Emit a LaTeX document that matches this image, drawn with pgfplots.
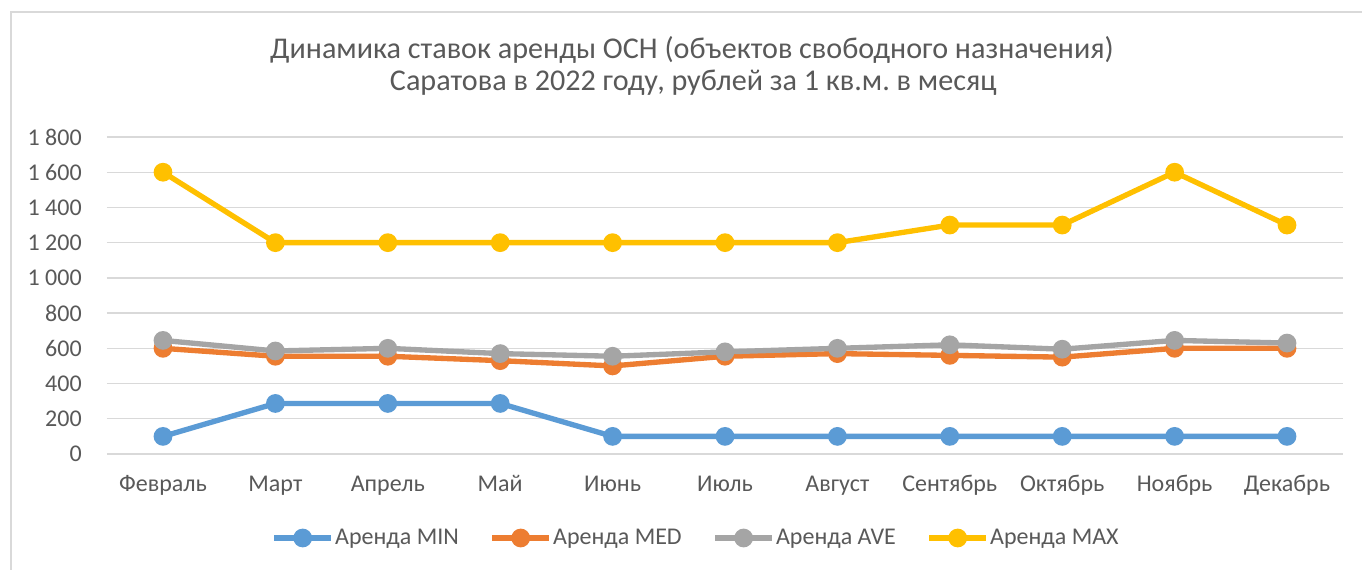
\documentclass[border=0pt]{standalone}
\usepackage{fontspec}
\setmainfont{Carlito}
\usepackage{pgfplots}
\pgfplotsset{compat=1.18}
\definecolor{cmin}{RGB}{91,155,213}
\definecolor{cmed}{RGB}{237,125,49}
\definecolor{cave}{RGB}{165,165,165}
\definecolor{cmax}{RGB}{255,192,0}
\definecolor{gridc}{RGB}{217,217,217}
\definecolor{txt}{RGB}{89,89,89}
\frenchspacing
\begin{document}
\begin{tikzpicture}
\useasboundingbox (0,0) rectangle (1021.5pt,427.5pt);
\fill[white] (0,0) rectangle (1021.5pt,427.5pt);
\draw[gridc,line width=1.2pt] (8.25pt,0pt) -- (8.25pt,418.5pt) -- (1021.5pt,418.5pt);
\node[anchor=base,font=\fontsize{22.6}{26}\selectfont,text=txt] at (519pt,383.25pt) {Динамика ставок аренды ОСН (объектов свободного назначения)};
\node[anchor=base,font=\fontsize{22.6}{26}\selectfont,text=txt] at (520pt,359.25pt) {Саратова в 2022 году, рублей за 1 кв.м. в месяц};
\begin{axis}[
  at={(80.1pt,87pt)}, anchor=south west,
  scale only axis, width=927.3pt, height=237.75pt,
  xmin=-0.5, xmax=10.5, ymin=0, ymax=1800,
  clip=false,
  axis line style={draw=none},
  major tick length=0pt,
  tick style={draw=none},
  ymajorgrids, grid style={gridc,line width=1pt},
  xtick={0,...,10},
  xticklabels={Февраль,Март,Апрель,Май,Июнь,Июль,Август,Сентябрь,Октябрь,Ноябрь,Декабрь},
  ytick={0,200,...,1800},
  yticklabels={0,200,400,600,800,1 000,1 200,1 400,1 600,1 800},
  ticklabel style={font=\fontsize{18}{20}\selectfont,text=txt,inner sep=0pt},
  xticklabel style={anchor=base,yshift=-28.5pt},
  yticklabel style={anchor=east,xshift=-18.6pt},
  every axis plot/.append style={line width=4pt, mark=*, mark size=5pt, mark options={solid}},
  legend columns=4,
  legend style={at={(0.1330,-0.265)}, anchor=west, draw=none, fill=none, inner sep=0pt,
    font=\fontsize{18}{20}\selectfont, text=txt,
    /tikz/every even column/.append style={column sep=22pt},
    nodes={inner xsep=1pt, inner ysep=0pt}},
  legend image code/.code={\draw[mark repeat=2,mark phase=2] plot coordinates {(0pt,0pt) (21.4pt,0pt) (42.75pt,0pt)};},
]
\addplot[cmin] coordinates {(0,100) (1,287) (2,287) (3,287) (4,100) (5,100) (6,100) (7,100) (8,100) (9,100) (10,100)};
\addlegendentry{Аренда MIN}
\addplot[cmed] coordinates {(0,600) (1,555) (2,555) (3,530) (4,500) (5,555) (6,570) (7,560) (8,550) (9,600) (10,600)};
\addlegendentry{Аренда MED}
\addplot[cave] coordinates {(0,645) (1,585) (2,600) (3,570) (4,555) (5,580) (6,600) (7,620) (8,595) (9,645) (10,630)};
\addlegendentry{Аренда AVE}
\addplot[cmax] coordinates {(0,1600) (1,1200) (2,1200) (3,1200) (4,1200) (5,1200) (6,1200) (7,1300) (8,1300) (9,1600) (10,1300)};
\addlegendentry{Аренда MAX}
\end{axis}
\end{tikzpicture}
\end{document}
